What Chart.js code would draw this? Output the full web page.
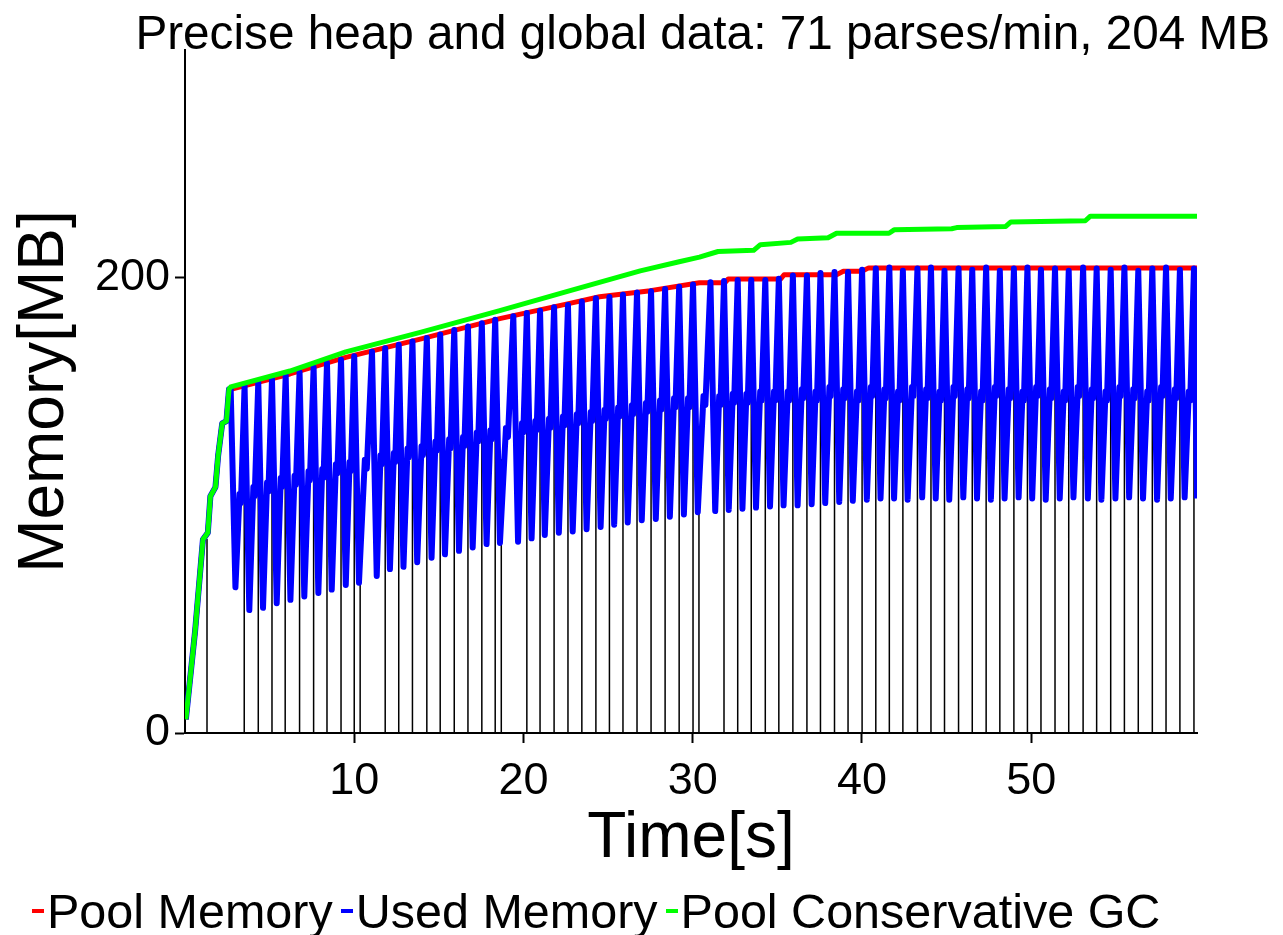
<!DOCTYPE html>
<html>
<head>
<meta charset="utf-8">
<script src="https://cdn.jsdelivr.net/npm/chart.js@4.4.1/dist/chart.umd.min.js"></script>
<style>
    body { margin: 0; background: #fff; width: 1283px; height: 935px; position: relative; overflow: hidden;
           font-family: "Liberation Sans", Arial, sans-serif; color: #000; }
    #memory_canvas { position: absolute; left: 0; top: 0; }
    #chart_title { position: absolute; right: 13px; top: 9px; font-size: 47.7px; line-height: 47px; white-space: nowrap; }
    #chart_legend { position: absolute; left: 32px; top: 887px; display: flex; font-size: 48.5px; line-height: 48px; white-space: nowrap; }
    .legend_item { display: flex; align-items: center; margin-right: 8px; }
    .legend_dash { width: 12px; height: 4px; margin-right: 3px; }
</style>
</head>
<body>
<canvas id="memory_canvas" width="1283" height="885"></canvas>
<div id="chart_title">Precise heap and global data: 71 parses/min, 204 MB</div>
<div id="chart_legend"></div>
<script>
const chart_title = "Precise heap and global data: 71 parses/min, 204 MB";
const series_names = ["Pool Memory", "Used Memory", "Pool Conservative GC"];
const series_colors = ["#ff0000", "#0000ff", "#00ff00"];
const x_tick_values = [10, 20, 30, 40, 50];
const y_tick_values = [0, 200];
const x_max = 59.8;
const y_max = 300;

// start-up, all three lines climb together
const ramp_times = [0.05, 0.6, 1.06, 1.35, 1.5, 1.8, 1.96, 2.2, 2.45, 2.6];
const ramp_values = [6, 45, 85, 88, 104, 108, 122, 136, 137, 151];

const pool_times = [2.7, 6.2, 9.5, 13.9, 18.6, 22.6, 24.5, 27.5, 30.4, 31.9, 32.1, 35.2, 35.4, 38.5, 38.9, 40.0, 40.4, 59.8];
const pool_values = [151, 157.7, 165, 173, 182, 188.5, 191.6, 194.3, 197.8, 197.8, 199.4, 199.4, 201.3, 201.3, 202.8, 202.8, 204.3, 204.3];

const conservative_times = [2.7, 6.2, 9.5, 13.9, 18.6, 22.6, 26.9, 29.2, 30.4, 31.5, 33.6, 34.0, 35.8, 36.2, 38.0, 38.5, 41.6, 41.9, 45.3, 45.6, 48.5, 48.8, 53.2, 53.5, 59.8];
const conservative_values = [152, 159, 167.4, 176, 185.5, 194, 203, 207, 209, 211.5, 212, 214.5, 215.5, 217, 217.5, 219.5, 219.5, 221, 221.5, 222, 222.5, 224.5, 225, 227, 227];

// one entry per parse cycle: peak before collection, value after, level half way
const used_peak_times = [
    2.70, 3.52, 4.33, 5.14, 5.95, 6.77, 7.60, 8.39, 9.22, 10.00,
    11.05, 11.83, 12.63, 13.44, 14.29, 15.08, 15.91, 16.72, 17.54, 18.33,
    19.40, 20.20, 20.98, 21.81, 22.63, 23.45, 24.28, 25.08, 25.88, 26.71,
    27.54, 28.37, 29.20, 30.02, 31.05, 31.85, 32.66, 33.46, 34.29, 35.09,
    35.92, 36.75, 37.55, 38.38, 39.18, 40.01, 40.82, 41.62, 42.42, 43.28,
    44.08, 44.88, 45.71, 46.52, 47.34, 48.15, 48.98, 49.78, 50.58, 51.41,
    52.22, 53.07, 53.87, 54.70, 55.51, 56.33, 57.16, 57.97, 58.79, 59.62
];
const used_peaks = [
    151, 152.5, 154, 155.5, 157, 158.5, 160.5, 162.5, 164, 165.5,
    167.5, 169, 170.5, 172, 173.5, 175, 177, 178.5, 180, 181.5,
    183, 184.5, 185.5, 187, 188, 189.5, 191, 191.5, 192.5, 193.5,
    194, 195, 196, 197, 198, 198.5, 199, 199, 199, 199.5,
    201, 201, 202, 202.5, 202.5, 203.5, 204, 204.5, 203, 204,
    204.5, 203, 204, 203.5, 204.5, 203, 204, 204.5, 203.5, 204,
    203, 204.5, 204, 203.5, 204.5, 203, 204, 204.5, 203.5, 204
];
const used_troughs = [
    64, 54, 55, 57, 58.5, 60, 61.5, 63, 65, 66,
    69, 72, 73, 75, 77, 78.5, 80, 81.5, 83, 83.5,
    84, 85.5, 87, 88, 88.5, 89.5, 90.5, 91.5, 92.5, 93.5,
    94, 95, 96, 97, 97.5, 98, 98.5, 99, 99.5, 100,
    100, 100.5, 101, 101.5, 102, 102.5, 103, 103, 102.5, 103.5,
    103, 102.5, 103.5, 103, 102.5, 103, 103.5, 103, 102.5, 103,
    103.5, 103, 102.5, 103, 103.5, 103, 102.5, 103, 103.5, 103
];
const used_mids = [
    105, 108, 110, 112, 113, 115, 116, 118, 119, 120,
    122, 123, 125, 126, 128, 129, 130, 132, 133, 134,
    136, 137, 138, 139, 140, 141, 142, 143, 144, 145,
    146, 147, 147, 148, 148, 149, 149, 150, 150, 150,
    151, 150, 152, 151, 150, 152, 151, 150, 152, 151,
    150, 152, 151, 150, 152, 151, 150, 152, 151, 150,
    152, 151, 150, 152, 151, 150, 152, 151, 150, 151
];

// collection events, drawn as thin black bars from zero
const gc_times = [
    1.30, 3.50, 4.33, 5.14, 5.92, 6.77, 7.60, 8.39, 9.22, 10.00,
    10.35, 11.83, 12.63, 13.44, 14.29, 15.08, 15.91, 16.72, 17.54, 18.33,
    18.69, 20.20, 20.98, 21.81, 22.63, 23.45, 24.28, 25.08, 25.88, 26.71,
    27.54, 28.37, 29.20, 30.02, 30.37, 31.85, 32.66, 33.46, 34.29, 35.09,
    35.92, 36.75, 37.55, 38.38, 39.18, 40.01, 40.82, 41.62, 42.42, 43.28,
    44.08, 44.88, 45.71, 46.52, 47.34, 48.15, 48.98, 49.78, 50.58, 51.41,
    52.22, 53.07, 53.87, 54.70, 55.51, 56.33, 57.16, 57.97, 58.79, 59.62
];
const gc_heights = [
    85, 113, 119, 108, 115, 118, 120, 122, 124, 126,
    100, 128, 130, 132, 134, 136, 138, 140, 141, 143,
    120, 147, 150, 149, 151, 152, 153, 154, 155, 156,
    157, 158, 159, 160, 130, 162, 164, 161, 163, 165,
    162, 164, 161, 163, 165, 162, 164, 166, 163, 161,
    165, 162, 164, 163, 165, 161, 164, 162, 166, 163,
    165, 162, 164, 163, 165, 162, 164, 161, 165, 163
];

const font_family = "'Liberation Sans', Arial, sans-serif";

function to_points(times, values) {
    return times.map((t, i) => ({x: t, y: values[i]}));
}

function build_used_points() {
    let points = to_points(ramp_times, ramp_values);
    for (let i = 0; i < used_peak_times.length; i++) {
        const t = used_peak_times[i];
        const bottom_t = Math.min(t + 0.28, x_max);
        const next_t = i + 1 < used_peak_times.length ? used_peak_times[i + 1] : x_max;
        const span = Math.max(next_t - bottom_t, 0);
        points.push({x: t, y: used_peaks[i]});
        points.push({x: bottom_t, y: used_troughs[i]});
        if (span > 0) {
            points.push({x: bottom_t + span * 0.45, y: used_mids[i]});
            points.push({x: bottom_t + span * 0.6, y: used_mids[i] - 4});
        }
    }
    return points;
}

function build_gc_points() {
    let points = [];
    gc_times.forEach((t, i) => {
        points.push({x: t, y: 0}, {x: t, y: gc_heights[i]}, {x: t, y: 0});
    });
    return points;
}

function setup_legend() {
    const legend = document.getElementById("chart_legend");
    series_names.forEach((name, i) => {
        const item = document.createElement("span");
        item.className = "legend_item";
        const dash = document.createElement("span");
        dash.className = "legend_dash";
        dash.style.background = series_colors[i];
        const label = document.createElement("span");
        label.textContent = name;
        item.appendChild(dash);
        item.appendChild(label);
        legend.appendChild(item);
    });
    document.getElementById("chart_title").textContent = chart_title;
}

function line_dataset(label, data, color, width, order) {
    return {
        label: label,
        data: data,
        showLine: true,
        borderColor: color,
        backgroundColor: color,
        borderWidth: width,
        borderJoinStyle: 'round',
        pointRadius: 0,
        tension: 0,
        order: order
    };
}

let data = {
    datasets: [
        line_dataset(series_names[2], to_points(ramp_times, ramp_values).concat(to_points(conservative_times, conservative_values)), series_colors[2], 5, 0),
        line_dataset(series_names[1], build_used_points(), series_colors[1], 6, 1),
        line_dataset(series_names[0], to_points(ramp_times, ramp_values).concat(to_points(pool_times, pool_values)), series_colors[0], 5, 2),
        line_dataset("GC", build_gc_points(), "#000000", 1.5, 3)
    ]
};

let config = {
    type: 'scatter',
    data: data,
    options: {
        responsive: false,
        animation: false,
        devicePixelRatio: 1,
        layout: {
            padding: {top: 50, right: 86, left: 0, bottom: 0}
        },
        plugins: {
            legend: {display: false},
            title: {display: false},
            tooltip: {enabled: false}
        },
        scales: {
            x: {
                type: 'linear',
                min: 0,
                max: x_max,
                afterBuildTicks: axis => { axis.ticks = x_tick_values.map(v => ({value: v})); },
                afterFit: scale => { scale.height = 152; },
                grid: {display: true, drawOnChartArea: false, drawTicks: true, tickLength: 10, tickWidth: 2, tickColor: '#000'},
                border: {display: true, color: '#000', width: 2},
                ticks: {color: '#000', padding: 12, maxRotation: 0, font: {family: font_family, size: 45}},
                title: {display: true, text: 'Time[s]', color: '#000', padding: {top: 0, bottom: 7}, font: {family: font_family, size: 64}}
            },
            y: {
                type: 'linear',
                min: 0,
                max: y_max,
                afterBuildTicks: axis => { axis.ticks = y_tick_values.map(v => ({value: v})); },
                afterFit: scale => { scale.width = 185; },
                grid: {display: true, drawOnChartArea: false, drawTicks: true, tickLength: 10, tickWidth: 2, tickColor: '#000'},
                border: {display: true, color: '#000', width: 2},
                ticks: {color: '#000', padding: 5, font: {family: font_family, size: 45}},
                title: {display: true, text: 'Memory[MB]', color: '#000', padding: {top: 7, bottom: 0}, font: {family: font_family, size: 64}}
            }
        }
    }
};

setup_legend();

let memory_plot = new Chart(
    document.getElementById('memory_canvas'),
    config
);
</script>
</body>
</html>
